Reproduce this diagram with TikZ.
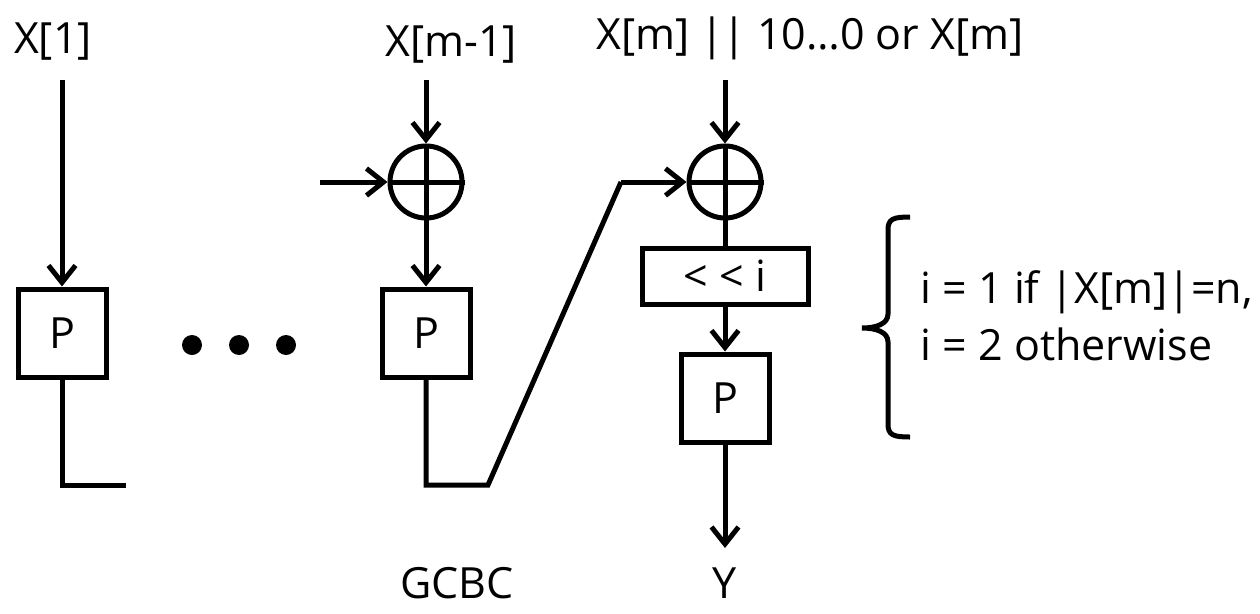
\documentclass[tikz,border=0pt]{standalone}
\usepackage{fontspec}
\setmainfont{Open Sans}
\usetikzlibrary{arrows.meta}
\begin{document}
\begin{tikzpicture}[x=1pt,y=-1pt,
  line width=5pt,
  every node/.style={font=\fontsize{43}{57}\selectfont, inner sep=0pt},
  arr/.style={-{Straight Barb[length=17pt,width=27pt,line width=5pt]}},
  pbox/.style={draw, minimum width=88pt, minimum height=88pt},
  sbox/.style={draw, minimum width=166pt, minimum height=56pt},
  xorc/.style={draw, circle, minimum size=72pt},
  dot/.style={fill, circle, minimum size=20pt}]
\useasboundingbox (0,0) rectangle (1260,613);
% labels
\node (L1) at (53,42) {X[1]};
\node (L2) at (451,45) {X[m-1]};
\node (L3) at (810,38) {X[m] |\kern-2pt| 10…0 or X[m]};
\node (G) at (457,583) {GCBC};
\node (Y) at (725,583) {Y};
% column 1
\coordinate (in1) at (62,80);
\node[pbox] (P1) at (62,333) {P};
\coordinate (b1) at (62,485);
\coordinate (e1) at (126,485);
\draw[arr] (in1) -- (P1.north);
\draw (P1.south) -- (b1) -- (e1);
% dots
\node[dot] (d1) at (192,345) {};
\node[dot] (d2) at (239,345) {};
\node[dot] (d3) at (286,345) {};
% column 2
\coordinate (in2) at (426,80);
\coordinate (l2) at (320,182);
\node[xorc] (X1) at (426,182) {};
\draw (X1.north) -- (X1.south) (X1.west) -- (X1.east);
\node[pbox] (P2) at (426,333) {P};
\draw[arr] (in2) -- (X1.north);
\draw[arr] (l2) -- (X1.west);
\draw[arr] (X1.south) -- (P2.north);
\coordinate (b2) at (426,485);
\coordinate (e2) at (488,485);
\coordinate (t2) at (621,182);
% column 3
\coordinate (in3) at (725,80);
\node[xorc] (X2) at (725,182) {};
\draw (X2.north) -- (X2.south) (X2.west) -- (X2.east);
\node[sbox] (S) at (725,276) {{<} {<} i};
\node[pbox] (P3) at (725,398) {P};
\coordinate (out) at (725,548);
\draw[arr] (in3) -- (X2.north);
\draw[line join=miter] (P2.south) -- (b2) -- (e2) -- (t2);
\draw[arr] (t2) -- (X2.west);
\draw (X2.south) -- (S.north);
\draw[arr] (S.south) -- (P3.north);
\draw[arr] (P3.south) -- (out);
% brace
\coordinate (bt) at (910,217);
\coordinate (bb) at (910,437);
\coordinate (bm) at (862,328);
\draw (bt) .. controls (893,217) and (888,219) .. (888,230)
  -- (888,314) .. controls (888,324) and (876,328) .. (bm)
  .. controls (876,328) and (888,332) .. (888,342)
  -- (888,424) .. controls (888,435) and (893,437) .. (bb);
\node[anchor=west, align=left] (T) at (918,316) {i = 1 if |X[m]|=n,\\i = 2 otherwise};
\end{tikzpicture}
\end{document}
